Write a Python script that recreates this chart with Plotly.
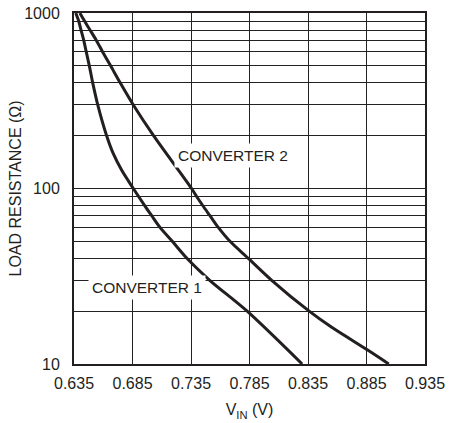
import math
import plotly.graph_objects as go

# Converter 1 (left curve): input voltage (V) vs load resistance (ohm)
conv1_vin = [0.6365, 0.639, 0.641, 0.6433, 0.6455, 0.6481, 0.651, 0.6553, 0.6629, 0.6686, 0.6758, 0.6857, 0.6957, 0.7014, 0.7085, 0.719, 0.7315, 0.751, 0.783, 0.830]
conv1_r   = [1000,   900,   800,   700,    600,    500,    400,   300,    200,    158,    127,    100,    79.4,   70,     60,     50,    40,     30,    20,    10]

# Converter 2 (right curve)
conv2_vin = [0.640, 0.644, 0.6487, 0.654, 0.6595, 0.6663, 0.6745, 0.6856, 0.703, 0.7355, 0.7398, 0.745, 0.7512, 0.7583, 0.7683, 0.784, 0.804, 0.836, 0.854, 0.886, 0.904]
conv2_r   = [1000,  900,   800,    700,   600,    500,    400,    300,    200,   100,    90,     80,    70,     60,     50,     40,    30,    20,    16.4,  12,    10]

x_ticks = [0.635, 0.685, 0.735, 0.785, 0.835, 0.885, 0.935]
x_tick_labels = ["0.635", "0.685", "0.735", "0.785", "0.835", "0.885", "0.935"]
y_ticks = [10, 100, 1000]
y_tick_labels = ["10", "100", "1000"]
y_minor = [20, 30, 40, 50, 60, 70, 80, 90, 200, 300, 400, 500, 600, 700, 800, 900]

labels = [("CONVERTER 2", 0.7709, 155), ("CONVERTER 1", 0.6974, 27.2)]
y_title = "LOAD RESISTANCE (Ω)"

FONT = "Liberation Sans, Arial, sans-serif"
LINE = "#231f20"
GRID = "#222222"

W, H = 450, 423
ML, MR, MT, MB = 74, 25, 13, 59

fig = go.Figure()
fig.add_trace(go.Scatter(x=conv1_vin, y=conv1_r, mode="lines",
                         line=dict(color=LINE, width=3, shape="spline", smoothing=0.8),
                         showlegend=False, hoverinfo="skip"))
fig.add_trace(go.Scatter(x=conv2_vin, y=conv2_r, mode="lines",
                         line=dict(color=LINE, width=3, shape="spline", smoothing=0.8),
                         showlegend=False, hoverinfo="skip"))

for text, xv, yv in labels:
    fig.add_annotation(x=xv, y=math.log10(yv), yref="y", xref="x", text=text, showarrow=False,
                       font=dict(family=FONT, size=15.5, color="#231f20"),
                       bgcolor="white", borderpad=3)

# y-axis title as a rotated annotation, centred 15 px from the left edge
plot_w = W - ML - MR
fig.add_annotation(x=(15 - ML) / plot_w, y=0.5, xref="paper", yref="paper",
                   text=y_title, textangle=-90, showarrow=False,
                   xanchor="center", yanchor="middle",
                   font=dict(family=FONT, size=16, color="#231f20"))

fig.update_layout(
    width=W, height=H,
    margin=dict(l=ML, r=MR, t=MT, b=MB),
    paper_bgcolor="white", plot_bgcolor="white",
    font=dict(family=FONT, size=16, color="#231f20"),
)
fig.update_xaxes(
    range=[0.635, 0.935], tickvals=x_ticks, ticktext=x_tick_labels,
    showgrid=True, gridcolor=GRID, gridwidth=1,
    showline=True, linecolor=LINE, linewidth=2, mirror=True,
    ticks="", ticklabelstandoff=4, zeroline=False, automargin=False,
    title=dict(text="V<sub>IN</sub> (V)", standoff=13, font=dict(size=16)),
)
fig.update_yaxes(
    type="log", range=[1, 3], tickvals=y_ticks, ticktext=y_tick_labels,
    showgrid=True, gridcolor=GRID, gridwidth=1,
    minor=dict(tickvals=y_minor, showgrid=True, gridcolor=GRID, gridwidth=1, ticks=""),
    showline=True, linecolor=LINE, linewidth=2, mirror=True,
    ticks="", ticklabelstandoff=9, ticklabeloverflow="allow", zeroline=False, automargin=False,
)

fig.write_html("out.html", config={"displayModeBar": False},
               post_script="document.body.style.margin='0';")
